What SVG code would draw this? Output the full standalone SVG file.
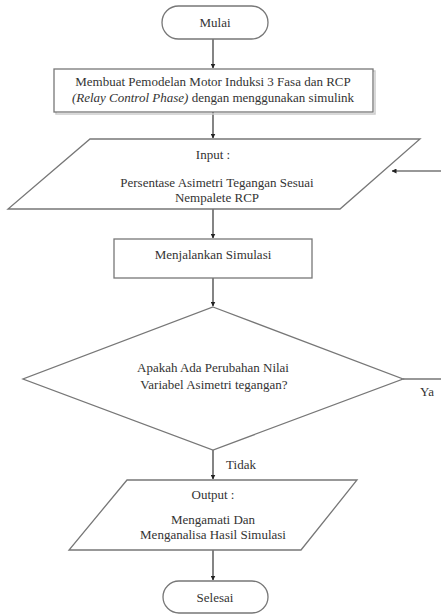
<svg xmlns="http://www.w3.org/2000/svg" width="441" height="614" viewBox="0 0 441 614">
<defs>
<marker id="arr" viewBox="0 0 10 10" refX="9" refY="5" markerWidth="5" markerHeight="5" orient="auto" markerUnits="userSpaceOnUse">
<path d="M0,0 L10,5 L0,10 z" fill="#222"/>
</marker>
</defs>
<style>
.shape{fill:#fff;stroke:#777;stroke-width:1.3}
.shadow{fill:none;stroke:#ccc;stroke-width:1.5}
.t{font-size:13px;fill:#333;text-anchor:middle}
.c{stroke:#333;stroke-width:1.2;fill:none}
</style>
<rect width="441" height="614" fill="#fff"/>
<g font-family="Liberation Serif, Times New Roman, serif">
<g id="connectors">
<line class="c" x1="213" y1="39" x2="213" y2="68" marker-end="url(#arr)"/>
<line class="c" x1="213" y1="112" x2="213" y2="138" marker-end="url(#arr)"/>
<line class="c" x1="213" y1="209" x2="213" y2="238" marker-end="url(#arr)"/>
<line class="c" x1="213" y1="278" x2="213" y2="306" marker-end="url(#arr)"/>
<line class="c" x1="213" y1="450" x2="213" y2="479" marker-end="url(#arr)"/>
<line class="c" x1="213" y1="550" x2="213" y2="580" marker-end="url(#arr)"/>
<line class="c" x1="441" y1="171" x2="392" y2="171" marker-end="url(#arr)"/>
<line class="c" x1="403" y1="379" x2="441" y2="379"/>
<text class="t" x="427" y="396">Ya</text>
<text class="t" x="241" y="469">Tidak</text>
</g>
<g id="mulai">
<rect class="shape" x="162" y="6" width="106" height="33" rx="16.5"/>
<text class="t" x="215" y="27">Mulai</text>
</g>
<g id="pemodelan">
<rect class="shadow" x="56" y="71" width="319" height="43"/>
<rect class="shape" x="54" y="69" width="319" height="43"/>
<text class="t" x="213" y="86">Membuat Pemodelan Motor Induksi 3 Fasa dan RCP</text>
<text class="t" x="213" y="102"><tspan font-style="italic">(Relay Control Phase)</tspan>  dengan menggunakan simulink</text>
</g>
<g id="input">
<polygon class="shape" points="90,139 420,139 340,209 8,209"/>
<text class="t" x="213" y="159">Input :</text>
<text class="t" x="217" y="187">Persentase Asimetri Tegangan Sesuai</text>
<text class="t" x="217" y="202">Nempalete RCP</text>
</g>
<g id="simulasi">
<rect class="shape" x="114" y="239" width="198" height="39"/>
<text class="t" x="213" y="259">Menjalankan Simulasi</text>
</g>
<g id="keputusan">
<polygon class="shape" points="213,307 403,379 213,450 23,379"/>
<text class="t" x="213" y="372">Apakah Ada Perubahan Nilai</text>
<text class="t" x="214" y="389">Variabel  Asimetri tegangan?</text>
</g>
<g id="output">
<polygon class="shape" points="127,480 357,480 301,550 69,550"/>
<text class="t" x="213" y="499">Output :</text>
<text class="t" x="213" y="524">Mengamati Dan</text>
<text class="t" x="213" y="539">Menganalisa Hasil Simulasi</text>
</g>
<g id="selesai">
<rect class="shape" x="163" y="581" width="105" height="32" rx="16"/>
<text class="t" x="215" y="602">Selesai</text>
</g>
</g>
</svg>
